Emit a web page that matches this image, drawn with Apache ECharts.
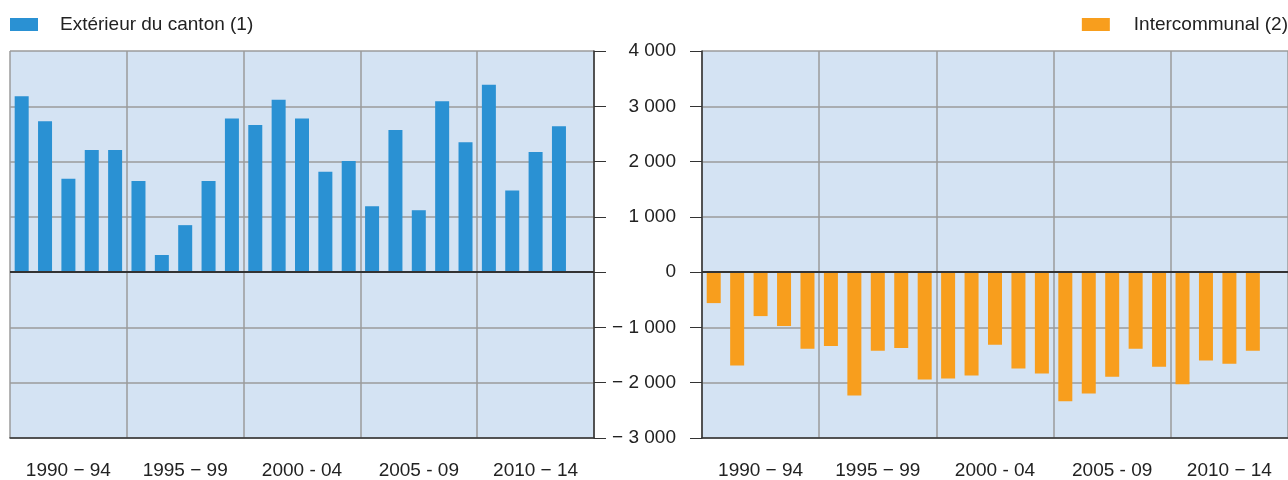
<!DOCTYPE html>
<html>
<head>
    <meta charset="utf-8">
    <title>Extérieur du canton / Intercommunal</title>
    <script src="https://cdn.jsdelivr.net/npm/echarts@6/dist/echarts.min.js"></script>
    <style>
        html, body { margin: 0; padding: 0; background: #fff; }
        #main { width: 1288px; height: 480px; }
    </style>
</head>
<body>
<div id="main"></div>
<script type="text/javascript">
    // années 1990 - 2014 (2014 sans valeur)
    var years = [];
    for (var y = 1990; y <= 2014; y++) years.push(String(y));

    var groupLabels = ['1990 − 94', '1995 − 99', '2000 - 04', '2005 - 09', '2010 − 14'];
    var yTicks = [-3000, -2000, -1000, 0, 1000, 2000, 3000, 4000];

    var exterieur = [3180, 2730, 1690, 2210, 2210, 1650, 310, 850, 1650, 2780,
        2660, 3120, 2780, 1815, 2010, 1190, 2570, 1120, 3090, 2350,
        3390, 1475, 2175, 2640, null];

    var intercommunal = [-560, -1690, -795, -975, -1385, -1335, -2230, -1420, -1370, -1940,
        -1925, -1870, -1315, -1745, -1835, -2335, -2195, -1890, -1385, -1710,
        -2030, -1600, -1655, -1420, null];

    var blue = '#2a91d3';
    var orange = '#f89e1d';
    var dark = '#333333';
    var gridGray = '#9b9b9b';
    var font = 'Liberation Sans, Arial, sans-serif';
    var fs = 19;

    function fmtNum(v) {
        var s = String(Math.abs(v));
        s = s.replace(/\B(?=(\d{3})+(?!\d))/g, ' ');
        return v < 0 ? '− ' + s : s;
    }

    function xAxisFor(idx) {
        return {
            type: 'category',
            gridIndex: idx,
            data: years,
            boundaryGap: true,
            axisLine: {onZero: false, lineStyle: {color: dark, width: 1.5}},
            axisTick: {
                length: 12,
                interval: function (i) { return i % 5 === 0; },
                lineStyle: {color: dark, width: 1}
            },
            splitLine: {
                show: true,
                interval: function (i) { return i % 5 === 0; },
                lineStyle: {color: gridGray, width: 1.5}
            },
            axisLabel: {
                interval: function (i) { return i % 5 === 2; },
                formatter: function (v, i) { return groupLabels[Math.floor(i / 5)]; },
                margin: 23,
                fontSize: fs,
                fontFamily: font,
                color: '#222'
            }
        };
    }

    function yAxisFor(idx, pos, showLabels) {
        return {
            type: 'value',
            gridIndex: idx,
            position: pos,
            min: yTicks[0],
            max: yTicks[yTicks.length - 1],
            interval: 1000,
            axisLine: {show: true, lineStyle: {color: dark, width: 1.5}},
            axisTick: {show: true, inside: false, length: 12, lineStyle: {color: dark, width: 1}},
            splitLine: {show: true, lineStyle: {color: gridGray, width: 1.5}},
            axisLabel: {
                show: showLabels,
                margin: 26,
                fontSize: fs,
                fontFamily: font,
                color: '#222',
                formatter: fmtNum
            }
        };
    }

    var zeroLine = {
        silent: true,
        symbol: 'none',
        label: {show: false},
        lineStyle: {color: dark, width: 2, type: 'solid'},
        data: [{yAxis: 0}]
    };

    var myChart = echarts.init(document.getElementById('main'));

    var option = {
        animation: false,
        backgroundColor: '#ffffff',
        textStyle: {fontFamily: font},
        legend: [{
            data: ['Extérieur du canton (1)'],
            left: 10,
            top: 15,
            padding: 0,
            itemWidth: 28,
            itemHeight: 13,
            icon: 'rect',
            textStyle: {fontSize: fs, color: '#222', padding: [0, 0, 0, 17]}
        }, {
            data: ['Intercommunal (2)'],
            right: 0,
            top: 15,
            padding: 0,
            itemWidth: 28,
            itemHeight: 13,
            icon: 'rect',
            textStyle: {fontSize: fs, color: '#222', padding: [0, 0, 0, 19]}
        }],
        grid: [{
            left: 10, right: 694, top: 51, bottom: 39,
            show: true, backgroundColor: '#d4e3f3', borderWidth: 0
        }, {
            left: 702, right: 0, top: 51, bottom: 39,
            show: true, backgroundColor: '#d4e3f3', borderWidth: 0
        }],
        xAxis: [xAxisFor(0), xAxisFor(1)],
        yAxis: [yAxisFor(0, 'right', false), yAxisFor(1, 'left', true)],
        series: [{
            name: 'Extérieur du canton (1)',
            type: 'bar',
            xAxisIndex: 0,
            yAxisIndex: 0,
            barWidth: 14,
            itemStyle: {color: blue},
            data: exterieur,
            markLine: zeroLine
        }, {
            name: 'Intercommunal (2)',
            type: 'bar',
            xAxisIndex: 1,
            yAxisIndex: 1,
            barWidth: 14,
            itemStyle: {color: orange},
            data: intercommunal,
            markLine: zeroLine
        }]
    };

    myChart.setOption(option);
</script>
</body>
</html>
